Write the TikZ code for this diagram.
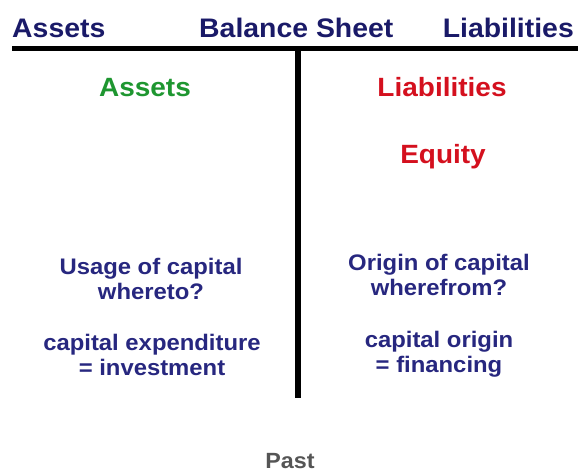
\documentclass[tikz,border=0pt]{standalone}
\usepackage{fontspec}
\setmainfont{Liberation Sans}[FakeStretch=1.06]
\definecolor{navy}{HTML}{1A1A68}
\definecolor{ink}{HTML}{27277F}
\definecolor{leafgreen}{HTML}{1E9630}
\definecolor{alarmred}{HTML}{D4101E}
\definecolor{pastgray}{HTML}{555555}
\tikzset{
  headtxt/.style={anchor=base, inner sep=0pt, text=navy,
    font=\bfseries\fontsize{26.8}{30}\selectfont},
  sidetxt/.style={anchor=base, inner sep=0pt,
    font=\bfseries\fontsize{26.4}{30}\selectfont},
  bodytxt/.style={anchor=base, inner sep=0pt, text=ink,
    font=\bfseries\fontsize{22.5}{26}\selectfont},
  rule/.style={line width=5pt, black}
}
\begin{document}
\begin{tikzpicture}[x=1pt, y=-1pt]
  \useasboundingbox (0,0) rectangle (578,472);

  % heading row
  \node[headtxt, anchor=base west] (hassets) at (12,37) {Assets};
  \node[headtxt, anchor=base west] (hsheet) at (199,37) {Balance Sheet};
  \node[headtxt, anchor=base east] (hliab) at (574,37) {Liabilities};

  % the T of the account
  \coordinate (tl) at (12,48.5);
  \coordinate (tr) at (578,48.5);
  \coordinate (tt) at (298,46);
  \coordinate (tb) at (298,398);
  \draw[rule] (tl) -- (tr);
  \draw[rule, line width=5.5pt] (tt) -- (tb);

  % left side
  \node[sidetxt, text=leafgreen] (assets) at (145,96) {Assets};
  \node[bodytxt] (use1) at (151,274) {Usage of capital};
  \node[bodytxt] (use2) at (151,299) {whereto?};
  \node[bodytxt] (exp1) at (152,350) {capital expenditure};
  \node[bodytxt] (exp2) at (152,375) {= investment};

  % right side
  \node[sidetxt, text=alarmred] (liab) at (442,96) {Liabilities};
  \node[sidetxt, text=alarmred] (equity) at (443,163) {Equity};
  \node[bodytxt] (org1) at (439,270) {Origin of capital};
  \node[bodytxt] (org2) at (439,295) {wherefrom?};
  \node[bodytxt] (fin1) at (439,347) {capital origin};
  \node[bodytxt] (fin2) at (439,372) {= financing};

  % caption
  \node[anchor=base, inner sep=0pt, text=pastgray,
        font=\bfseries\fontsize{22}{26}\selectfont] (past) at (290,468) {Past};
\end{tikzpicture}
\end{document}
